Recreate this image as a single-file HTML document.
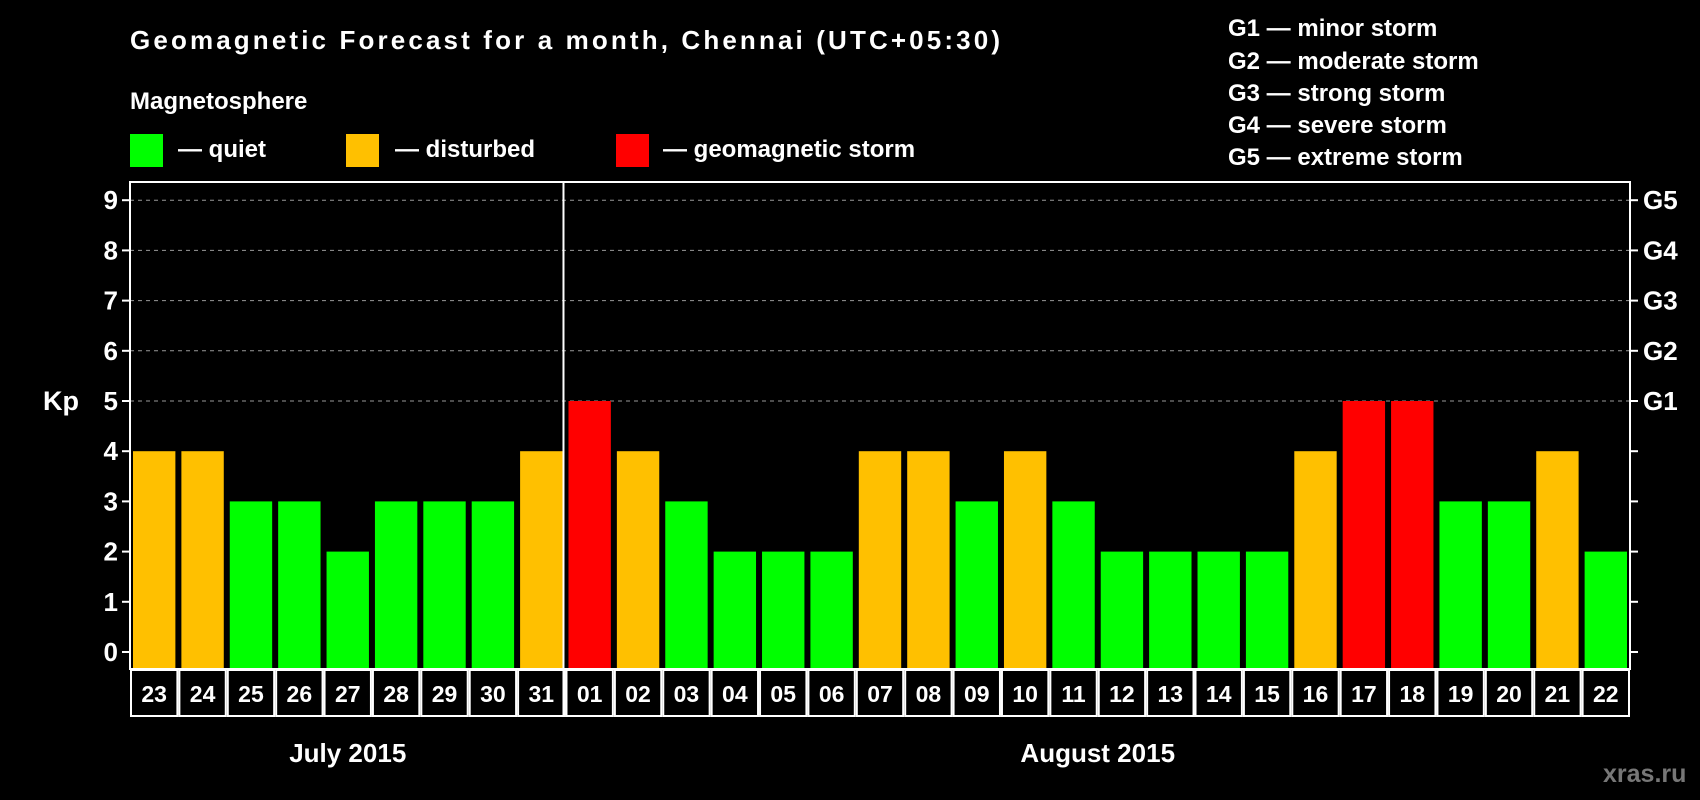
<!DOCTYPE html>
<html><head><meta charset="utf-8"><style>
body{margin:0;background:#000;width:1700px;height:800px;overflow:hidden}
svg{display:block;font-family:"Liberation Sans",Arial,sans-serif;font-weight:bold}
</style></head><body>
<svg id="chart" width="1700" height="800" viewBox="0 0 1700 800">
<text x="130" y="49" fill="#fff" font-size="26" textLength="870">Geomagnetic Forecast for a month, Chennai (UTC+05:30)</text>
<text x="130" y="109" fill="#fff" font-size="24">Magnetosphere</text>
<g><rect x="130" y="134" width="33" height="33" fill="#00ff00"/><text x="178" y="157" fill="#fff" font-size="24">— quiet</text></g>
<g><rect x="346" y="134" width="33" height="33" fill="#ffc000"/><text x="395" y="157" fill="#fff" font-size="24">— disturbed</text></g>
<g><rect x="616" y="134" width="33" height="33" fill="#ff0000"/><text x="663" y="157" fill="#fff" font-size="24">— geomagnetic storm</text></g>
<g fill="#fff" font-size="24">
<text x="1228" y="36">G1 — minor storm</text>
<text x="1228" y="69">G2 — moderate storm</text>
<text x="1228" y="101">G3 — strong storm</text>
<text x="1228" y="133">G4 — severe storm</text>
<text x="1228" y="165">G5 — extreme storm</text>
</g>
<text x="43" y="410" fill="#fff" font-size="27">Kp</text>
<text x="1603" y="782" fill="#777" font-size="25">xras.ru</text>
<g id="plot"></g>
</svg>
<script>
const days = ["23","24","25","26","27","28","29","30","31","01","02","03","04","05","06","07","08","09","10","11","12","13","14","15","16","17","18","19","20","21","22"];
const kp = [4,4,3,3,2,3,3,3,4,5,4,3,2,2,2,4,4,3,4,3,2,2,2,2,4,5,5,3,3,4,2];
const yTicks = [0,1,2,3,4,5,6,7,8,9];
const gLabels = ["G1","G2","G3","G4","G5"];
const months = ["July 2015","August 2015"];
const monthStart = [0,9];

const NS="http://www.w3.org/2000/svg";
const plot=document.getElementById('plot');
const L=130,R=1630,T=182,B=668;
const slot=(R-L)/days.length;
const x=i=>L+i*slot;
const y=v=>652-v*50.2;
function mk(tag,attrs,parent){const e=document.createElementNS(NS,tag);for(const k in attrs)e.setAttribute(k,attrs[k]);(parent||plot).appendChild(e);return e;}
function color(v){return v>=5?"#ff0000":(v>=4?"#ffc000":"#00ff00");}

yTicks.forEach(v=>{
  if(v>=5){const g=mk('line',{x1:L,x2:R,y1:y(v),y2:y(v),stroke:'#999','stroke-width':1,'stroke-dasharray':'4,4'});
  
  }
  const t1=mk('line',{x1:L-8,x2:L,y1:y(v),y2:y(v),stroke:'#fff','stroke-width':2});
  
  
  const t2=mk('line',{x1:R,x2:R+8,y1:y(v),y2:y(v),stroke:'#fff','stroke-width':2});
  
  
  const lb=mk('text',{x:L-12,y:y(v)+9,fill:'#fff','font-size':26,'text-anchor':'end'});
  lb.textContent=v;
  
  
});
gLabels.forEach((g,i)=>{
  const lb=mk('text',{x:R+13,y:y(5+i)+9,fill:'#fff','font-size':26});
  lb.textContent=g;
  
  
});
kp.forEach((v,i)=>{
  const b=mk('rect',{x:x(i)+3,y:y(v),width:slot-6,height:B-y(v),fill:color(v)});
  
  
  const bx=mk('rect',{x:x(i)+1,y:670,width:slot-2,height:46,fill:'none',stroke:'#fff','stroke-width':2});
  
  
  const t=mk('text',{x:x(i)+slot/2,y:702,fill:'#fff','font-size':23,'text-anchor':'middle'});
  t.textContent=days[i];
  
  
});
const frame=mk('rect',{x:L,y:T,width:R-L,height:B-T+1,fill:'none',stroke:'#fff','stroke-width':2});


const div=mk('line',{x1:x(9)-2,x2:x(9)-2,y1:T,y2:716,stroke:'#fff','stroke-width':2});


months.forEach((m,k)=>{
  const s=monthStart[k],e=k+1<monthStart.length?monthStart[k+1]:days.length;
  const t=mk('text',{x:(x(s)+x(e))/2,y:762,fill:'#fff','font-size':26,'text-anchor':'middle'});
  t.textContent=m;
  
  
});
</script>
</body></html>
